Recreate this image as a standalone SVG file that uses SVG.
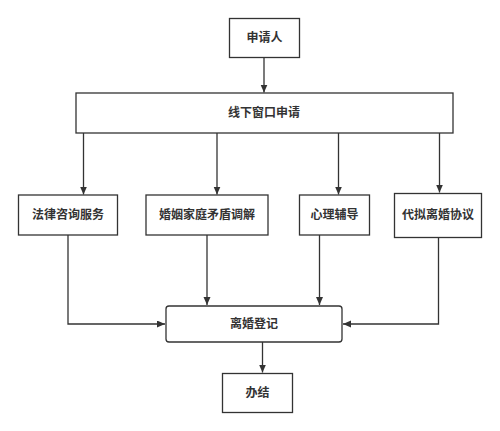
<svg xmlns="http://www.w3.org/2000/svg" width="500" height="431" viewBox="0 0 500 431">
<style>
.box{fill:#fff;stroke:#333;stroke-width:1.3}
.t{font-family:"Noto Sans CJK SC","Liberation Sans",sans-serif;font-size:12px;font-weight:bold;fill:#333;text-anchor:middle}
.c{fill:none;stroke:#333;stroke-width:1.3;marker-end:url(#a)}
</style>
<defs>
<marker id="a" markerUnits="userSpaceOnUse" markerWidth="9" markerHeight="8" refX="8" refY="3.5" orient="auto"><path d="M0,0 L8,3.5 L0,7 z" fill="#333"/></marker>
</defs>
<rect width="500" height="431" fill="#fff"/>
<g id="connectors">
<path class="c" d="M264,57.5 V92.5"/>
<path class="c" d="M83.5,133 V194.5"/>
<path class="c" d="M217,133 V194.5"/>
<path class="c" d="M338.5,133 V194.5"/>
<path class="c" d="M439.5,133 V192.5"/>
<path class="c" d="M68,235 V324 H165"/>
<path class="c" d="M207,235 V305"/>
<path class="c" d="M319.5,235 V305"/>
<path class="c" d="M438.5,237 V324 H343"/>
<path class="c" d="M262.5,342 V372.5"/>
</g>
<g id="n1"><rect class="box" x="229.5" y="18.5" width="70" height="39"/><text class="t" x="264.5" y="42">申请人</text></g>
<g id="n2"><rect class="box" x="76" y="93" width="377" height="40"/><text class="t" x="264" y="117">线下窗口申请</text></g>
<g id="n3"><rect class="box" x="18.5" y="195" width="99" height="40"/><text class="t" x="68" y="219">法律咨询服务</text></g>
<g id="n4"><rect class="box" x="146" y="195" width="122" height="40"/><text class="t" x="207" y="219">婚姻家庭矛盾调解</text></g>
<g id="n5"><rect class="box" x="299.5" y="195" width="70" height="40"/><text class="t" x="334.5" y="219">心理辅导</text></g>
<g id="n6"><rect class="box" x="394.5" y="193.5" width="87" height="44"/><text class="t" x="438" y="219">代拟离婚协议</text></g>
<g id="n7"><rect class="box" x="166" y="306" width="176" height="36" rx="3"/><text class="t" x="254" y="328">离婚登记</text></g>
<g id="n8"><rect class="box" x="222.5" y="373.5" width="70" height="39"/><text class="t" x="257.5" y="397">办结</text></g>
</svg>
